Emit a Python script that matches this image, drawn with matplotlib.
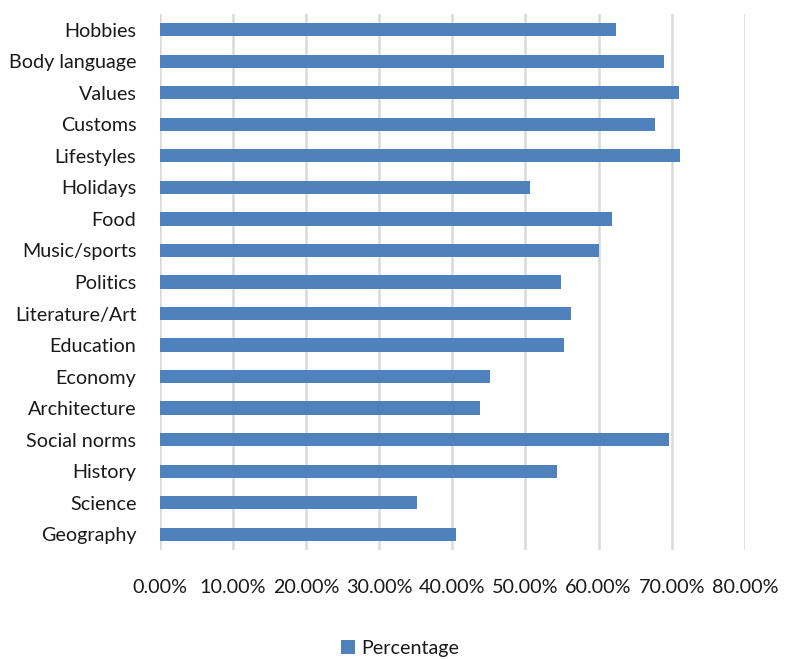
import matplotlib
matplotlib.use("Agg")
import matplotlib.pyplot as plt
from matplotlib.ticker import FuncFormatter
from matplotlib.patches import Patch

categories = ["Hobbies", "Body language", "Values", "Customs", "Lifestyles", "Holidays",
              "Food", "Music/sports", "Politics", "Literature/Art", "Education", "Economy",
              "Architecture", "Social norms", "History", "Science", "Geography"]
values = [62.4, 69.0, 71.0, 67.7, 71.2, 50.6, 61.8, 60.1, 54.9, 56.2, 55.3, 45.2,
          43.8, 69.6, 54.3, 35.2, 40.5]
xticks = [0, 10, 20, 30, 40, 50, 60, 70, 80]
series_name = "Percentage"

plt.rcParams['font.family'] = ['Lato', 'DejaVu Sans']

fig = plt.figure(figsize=(7.85, 6.59), dpi=100)
ax = fig.add_axes([0.2038, 0.1654, 0.745, 0.8134])

color = "#4f81bd"
fs = 14.2
ypos = list(range(len(categories)))
ax.barh(ypos, values, height=0.42, color=color, zorder=3)
ax.set_yticks(ypos)
ax.set_yticklabels(categories, fontsize=fs, color='#1a1a1a')
ax.set_ylim(len(categories) - 0.5, -0.5)
ax.set_xlim(0, 80)
ax.set_xticks(xticks)
ax.xaxis.set_major_formatter(FuncFormatter(lambda v, p: f"{v:.2f}%"))
ax.tick_params(axis='x', labelsize=fs, labelcolor='#1a1a1a', length=0, pad=21)
ax.tick_params(axis='y', length=0, pad=17)
ax.grid(axis='x', color='#d9d9d9', linewidth=1.8, zorder=0)
for s in ax.spines.values():
    s.set_visible(False)

fig.legend(handles=[Patch(facecolor=color)], labels=[series_name], loc='center',
           bbox_to_anchor=(0.51, 0.016), frameon=False, fontsize=fs,
           handlelength=0.7, handleheight=0.7, handletextpad=0.35,
           labelcolor='#1a1a1a')

fig.savefig("out.png", dpi=100)
